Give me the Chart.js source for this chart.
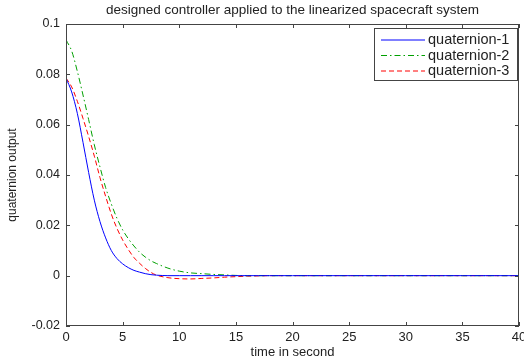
<!DOCTYPE html>
<html>
<head>
<meta charset="utf-8">
<script src="https://cdn.jsdelivr.net/npm/chart.js@4.4.0/dist/chart.umd.min.js"></script>
<style>
  html, body { margin: 0; padding: 0; background: #fff; }
  #wrap { width: 524px; height: 360px; }
</style>
</head>
<body>
<div id="wrap"><canvas id="chartQuat" width="524" height="360"></canvas></div>
<script>
// waktu (detik)
const time = [0, 0.5, 1, 1.5, 2, 2.5, 3, 3.5, 4, 4.5, 5, 5.5, 6, 6.5, 7, 7.5, 8,
  9, 10, 11, 12, 13, 14, 15, 16, 17, 18, 20, 25, 30, 35, 40];

const quat1 = [0.0785, 0.0730, 0.0645, 0.0530, 0.0410, 0.0300, 0.0215, 0.0150, 0.0100, 0.0068, 0.0047, 0.0032, 0.0021, 0.0014, 0.0008, 0.0004, 0.0002,
  0.0000, 0, 0, 0, 0, 0, 0, 0, 0, 0, 0, 0, 0, 0, 0];
const quat2 = [0.0937, 0.0893, 0.0812, 0.0718, 0.0620, 0.0520, 0.0432, 0.0350, 0.0285, 0.0228, 0.0182, 0.0147, 0.0118, 0.0093, 0.0074, 0.0059, 0.0048,
  0.0030, 0.0018, 0.0011, 0.0008, 0.0005, 0.0003, 0.0001, 0, 0, 0, 0, 0, 0, 0, 0];
const quat3 = [0.0785, 0.0750, 0.0693, 0.0625, 0.0553, 0.0475, 0.0390, 0.0315, 0.0245, 0.0188, 0.0142, 0.0104, 0.0072, 0.0049, 0.0029, 0.0013, 0.0002,
  -0.0008, -0.0012, -0.0013, -0.0011, -0.0009, -0.0006, -0.0004, -0.0002, -0.0001, 0, 0, 0, 0, 0, 0];

const seriesNames = ['quaternion-1', 'quaternion-2', 'quaternion-3'];
const xTicks = [0, 5, 10, 15, 20, 25, 30, 35, 40];
const yTicks = [-0.02, 0, 0.02, 0.04, 0.06, 0.08, 0.1];
const yTickLabels = ['-0.02', '0', '0.02', '0.04', '0.06', '0.08', '0.1'];
const chartTitle = 'designed controller applied to the linearized spacecraft system';

const FONT = '"Liberation Sans", Arial, sans-serif';

function toPoints(vals) {
  return time.map((t, i) => ({ x: t, y: vals[i] }));
}

// kotak axes + tick ke dalam (gaya matlab), judul di tengah area plot
const frameTicks = {
  id: 'frameTicks',
  afterDatasetsDraw(chart) {
    const { ctx, chartArea: a, scales: { x, y } } = chart;
    ctx.save();
    ctx.strokeStyle = '#444';
    ctx.lineWidth = 1;
    ctx.strokeRect(a.left + 0.5, a.top + 0.5, a.right - a.left - 1, a.bottom - a.top - 1);
    ctx.beginPath();
    xTicks.forEach(v => {
      const px = Math.round(x.getPixelForValue(v)) + 0.5;
      ctx.moveTo(px, a.bottom); ctx.lineTo(px, a.bottom - 4);
      ctx.moveTo(px, a.top); ctx.lineTo(px, a.top + 4);
    });
    yTicks.forEach(v => {
      const py = Math.round(y.getPixelForValue(v)) + 0.5;
      ctx.moveTo(a.left, py); ctx.lineTo(a.left + 4, py);
      ctx.moveTo(a.right, py); ctx.lineTo(a.right - 4, py);
    });
    ctx.stroke();

    ctx.fillStyle = '#222';
    ctx.font = '13.5px ' + FONT;
    ctx.textAlign = 'center';
    ctx.textBaseline = 'middle';
    ctx.fillText(chartTitle, (a.left + a.right) / 2, 10);
    ctx.restore();
  }
};

// legenda di dalam area plot
const innerLegend = {
  id: 'innerLegend',
  afterDraw(chart) {
    const ctx = chart.ctx;
    const bx = 374.5, by = 28.5, bw = 143, bh = 52;
    ctx.save();
    ctx.fillStyle = '#fff';
    ctx.fillRect(bx, by, bw, bh);
    ctx.strokeStyle = '#444';
    ctx.lineWidth = 1;
    ctx.strokeRect(bx, by, bw, bh);
    ctx.font = '14.5px ' + FONT;
    ctx.textBaseline = 'middle';
    chart.data.datasets.forEach((ds, i) => {
      const ly = 40 + i * 15.5;
      ctx.strokeStyle = ds.borderColor;
      ctx.setLineDash(ds.borderDash || []);
      ctx.beginPath();
      ctx.moveTo(381, ly); ctx.lineTo(425, ly);
      ctx.stroke();
      ctx.setLineDash([]);
      ctx.fillStyle = '#222';
      ctx.fillText(ds.label, 428, ly);
    });
    ctx.restore();
  }
};

const ctx = document.getElementById('chartQuat').getContext('2d');
new Chart(ctx, {
  type: 'line',
  data: {
    datasets: [{
      label: seriesNames[0],
      data: toPoints(quat1),
      borderColor: '#0000ff',
      borderWidth: 1,
      pointRadius: 0,
      cubicInterpolationMode: 'monotone'
    }, {
      label: seriesNames[1],
      data: toPoints(quat2),
      borderColor: '#00a000',
      borderWidth: 1,
      borderDash: [6, 3, 1.5, 3],
      pointRadius: 0,
      cubicInterpolationMode: 'monotone'
    }, {
      label: seriesNames[2],
      data: toPoints(quat3),
      borderColor: '#ff0000',
      borderWidth: 1,
      borderDash: [5, 3],
      pointRadius: 0,
      cubicInterpolationMode: 'monotone'
    }]
  },
  options: {
    responsive: false,
    animation: false,
    events: [],
    layout: { padding: { right: 5, top: 24 } },
    scales: {
      x: {
        type: 'linear',
        min: 0, max: 40,
        grid: { display: false, drawTicks: false },
        border: { display: false },
        afterBuildTicks: s => { s.ticks = xTicks.map(v => ({ value: v })); },
        afterFit: s => { s.height = 34; s.paddingLeft = 0; s.paddingRight = 0; },
        ticks: { font: { family: FONT, size: 13 }, color: '#222', padding: 4, maxRotation: 0, autoSkip: false },
        title: { display: true, text: 'time in second', font: { family: FONT, size: 13 }, color: '#222', padding: { top: 0, bottom: 0 } }
      },
      y: {
        min: -0.02, max: 0.1,
        grid: { display: false, drawTicks: false },
        border: { display: false },
        afterBuildTicks: s => { s.ticks = yTicks.map(v => ({ value: v })); },
        afterFit: s => { s.width = 66; s.paddingTop = 0; s.paddingBottom = 0; },
        ticks: {
          font: { family: FONT, size: 12.5 }, color: '#222', padding: 6, autoSkip: false,
          callback: (v, i) => yTickLabels[i]
        },
        title: { display: true, text: 'quaternion output', font: { family: FONT, size: 12 }, color: '#222', padding: { top: 5, bottom: 0 } }
      }
    },
    plugins: {
      legend: { display: false },
      tooltip: { enabled: false },
      title: { display: false }
    }
  },
  plugins: [frameTicks, innerLegend]
});
</script>
</body>
</html>
